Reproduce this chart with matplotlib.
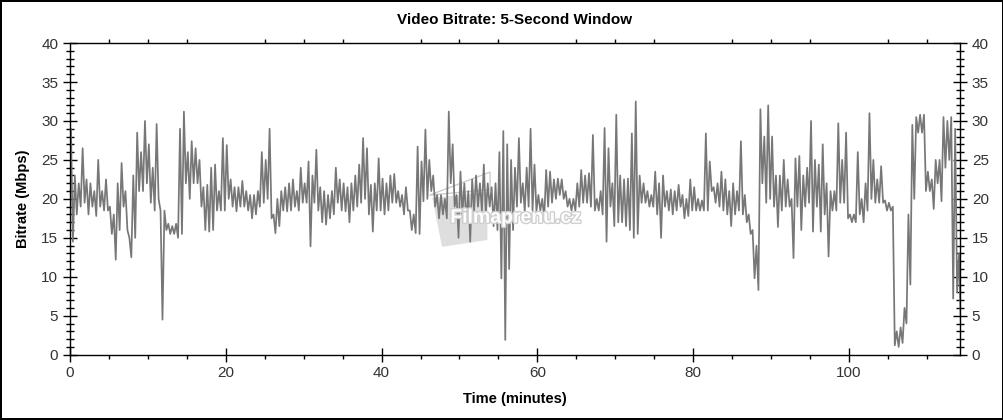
import matplotlib
matplotlib.use("Agg")
import matplotlib.pyplot as plt
import matplotlib.patheffects as pe
from matplotlib.patches import Polygon
from matplotlib.ticker import MultipleLocator
import numpy as np

# Bitrate in half-minute bins: upper and lower edge of the trace
bin_minutes = 0.5
bitrate_hi = [
    29, 23, 22, 26.5, 22.5, 22, 21, 25, 21, 22.5,
    19, 18, 22, 24.6, 21, 15, 23, 28.5, 26, 30,
    27, 24, 29.6, 18.5, 18.5, 16.8, 16.5, 16.8, 29, 31.2,
    26, 27.4, 26.5, 25, 21.5, 21.8, 24, 24.4, 21, 27.8,
    26.9, 22.5, 21.5, 21.5, 22.3, 21, 20.5, 20.5, 21, 26,
    25, 29, 18, 20, 21, 21.5, 22, 22.5, 21, 24,
    22, 24.8, 23, 26.3, 21.5, 21, 20.5, 21, 24, 22.5,
    22, 21.5, 22, 23, 24.4, 27.8, 26.5, 21.8, 22, 25.2,
    22.6, 22, 23, 23.2, 21, 20.5, 21.5, 18.5, 18, 26.7,
    24.8, 28.9, 25, 23, 20.5, 20.5, 20, 31.2, 27, 20.5,
    23.5, 22, 21, 22.5, 23, 22, 24.4, 22, 21.5, 22,
    26, 28.7, 27, 25, 24, 27.8, 22, 24, 29, 24.4,
    20.5, 20, 23.7, 23.5, 22.5, 22.6, 22.5, 21, 20, 20,
    22, 23.7, 23, 23.3, 28.2, 20, 21, 29.1, 26.5, 22,
    30.8, 23, 22.5, 22.6, 28.4, 32.5, 23, 22, 21, 20.5,
    23.5, 22, 23, 21, 21.2, 21, 21.8, 20.5, 20, 22.5,
    21.5, 20, 19.8, 28.4, 24.8, 21.5, 22, 23.5, 22.5, 21,
    22, 21, 27.4, 20.5, 18, 16, 14, 31.5, 28, 32,
    28, 23, 23, 25, 22.5, 20, 25.2, 25.5, 23, 24,
    30, 25, 24.4, 27, 22, 21, 21, 29.7, 25, 28.5,
    18, 18, 26, 20, 22, 31, 25, 22.5, 24.2, 19.8,
    19.5, 19, 3, 3.5, 6, 18, 29.5, 30.5, 30.8, 30.8,
    23.5, 22.5, 25, 25, 30.5, 30, 30.5, 29, 13,
]
bitrate_lo = [
    14.5, 18, 19, 19.5, 18, 19, 17.8, 19, 18.5, 18.5,
    15.5, 12.2, 16, 19, 16, 12.5, 15, 21, 21, 22,
    19.5, 18.5, 20, 4.5, 16, 15.5, 15.5, 15, 15.5, 22,
    20, 22, 22, 19, 16, 15.8, 16, 18.5, 18.5, 18.5,
    20, 19, 18.4, 19, 19, 18.5, 17.5, 18, 19, 19.5,
    20, 17.5, 15.6, 16.5, 18.5, 18.4, 18.5, 19, 18.5, 19.5,
    19.5, 13.9, 19.5, 18.5, 17, 16.7, 17.5, 18, 19.5, 18.5,
    18.4, 17, 18.5, 19, 19.5, 20, 18, 15.8, 18.5, 18.5,
    18, 18.5, 19.5, 19.5, 19, 18, 18.5, 16, 15.6, 15.5,
    19.7, 20, 21, 19, 17.5, 18, 17.5, 22, 19, 15,
    18, 17, 14.5, 18.5, 19, 18.5, 18, 19, 16.5, 16,
    9.8, 1.9, 11, 16, 19, 19.5, 18.4, 19, 18.5, 18.4,
    18.5, 17.5, 19, 19.5, 20, 20.5, 20, 19, 18.5, 18.5,
    19, 19.5, 19.5, 19, 18.5, 18.5, 18, 14.5, 19, 16.5,
    17, 17, 16.5, 16, 15, 15.5, 19.5, 19.5, 19, 19,
    18, 15, 19, 18.5, 18, 18.5, 19, 17.5, 17.8, 18.5,
    18.5, 18.5, 18.5, 18.5, 21, 19.5, 19, 18.5, 18, 16.5,
    18, 18.5, 18, 17, 15.5, 9.8, 8.3, 22, 19.5, 20,
    19, 16.4, 18.5, 19, 19, 12.4, 19, 16, 19, 19.5,
    15.8, 19, 15.8, 18, 12.6, 18.5, 18.5, 19.5, 19.5, 17.5,
    17, 17, 18, 17, 18.5, 20, 19.5, 19.5, 19.5, 18.5,
    18.5, 1.2, 1, 1.5, 4, 9, 20, 28.5, 28.5, 21,
    21, 18.7, 22, 19.7, 24, 25, 7.2, 8, 3,
]

y_ticks = [0, 5, 10, 15, 20, 25, 30, 35, 40]
x_ticks = [0, 20, 40, 60, 80, 100]

# zig-zag between the two edges so the trace reads as a dense band
start = np.arange(len(bitrate_hi)) * bin_minutes
minutes = np.column_stack([start + 0.125, start + 0.375]).ravel()
mbps = np.column_stack([bitrate_hi, bitrate_lo]).ravel()

plt.rcParams["font.family"] = ["Liberation Sans", "DejaVu Sans"]

fig = plt.figure(figsize=(10.04, 4.2), dpi=100)
fig.patch.set_edgecolor("black")
fig.patch.set_linewidth(1.5)
ax = fig.add_axes([0.0697, 0.1555, 0.8865, 0.742])

ax.plot(minutes, mbps, color="#777777", linewidth=1.25, zorder=2)

ax.set_xlim(0, 114.25)
ax.set_ylim(0, 40)
ax.set_xticks(x_ticks)
ax.set_yticks(y_ticks)
ax.xaxis.set_minor_locator(MultipleLocator(5))
ax.yaxis.set_minor_locator(MultipleLocator(1))
ax.tick_params(axis="both", which="major", labelsize=11, labelcolor="#333333",
               direction="inout", length=10, width=1)
ax.tick_params(axis="y", which="minor", direction="inout", length=6, width=1,
               left=True, right=True)
ax.tick_params(axis="y", which="both", right=True, labelright=True)
ax.tick_params(axis="x", which="minor", direction="out", length=3, width=1)
ax.tick_params(axis="x", which="minor", top=True)
for side in ax.spines.values():
    side.set_linewidth(1)

ax.set_title("Video Bitrate: 5-Second Window", fontsize=11, fontweight="bold", pad=14)
ax.set_xlabel("Time (minutes)", fontsize=10.5, fontweight="bold", labelpad=8)
ax.set_ylabel("Bitrate (Mbps)", fontsize=10.5, fontweight="bold", labelpad=8)

# faint site watermark: clapperboard logo under the trace, name over it
logo = Polygon([[0.407, 0.503], [0.469, 0.522], [0.469, 0.368], [0.418, 0.346]],
               closed=True, transform=ax.transAxes, facecolor="#d9d9d9",
               edgecolor="none", alpha=0.85, zorder=1)
ax.add_patch(logo)
clapper = Polygon([[0.404, 0.512], [0.472, 0.586], [0.472, 0.53]],
                  closed=True, transform=ax.transAxes, facecolor="none",
                  edgecolor="#cccccc", linewidth=1, zorder=1)
ax.add_patch(clapper)
ax.text(0.501, 0.438, "Filmaprenu.cz", transform=ax.transAxes, ha="center", va="center",
        fontsize=14, fontweight="bold", color="white", zorder=4,
        path_effects=[pe.withStroke(linewidth=2, foreground="#cfcfcf")])

fig.savefig("out.png", dpi=100, facecolor="white", edgecolor=fig.get_edgecolor())
plt.close(fig)
